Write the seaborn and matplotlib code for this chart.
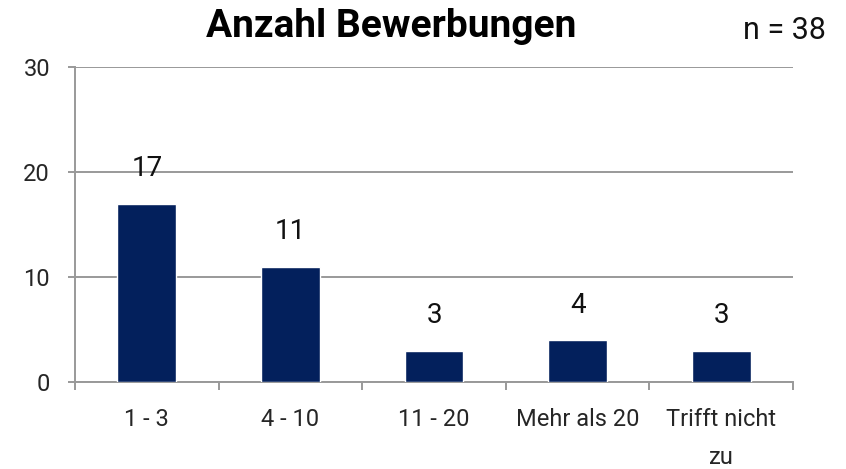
import pandas as pd
import matplotlib
matplotlib.use("Agg")
import matplotlib.pyplot as plt
import seaborn as sns

categories = ["1 - 3", "4 - 10", "11 - 20", "Mehr als 20", "Trifft nicht\nzu"]
counts = [17, 11, 3, 4, 3]
y_ticks = [0, 10, 20, 30]

sns.set_theme(style="white")
plt.rcParams["font.family"] = ["Roboto", "DejaVu Sans"]

df = pd.DataFrame({"Kategorie": categories, "Anzahl": counts})

fig = plt.figure(figsize=(8.46, 4.69), dpi=100)
ax = fig.add_axes([0.0887, 0.1855, 0.8487, 0.6716])

sns.barplot(data=df, x="Kategorie", y="Anzahl", color="#03205C", width=0.41,
            saturation=1, ax=ax, zorder=3)

ax.set_ylim(0, 30)
ax.set_xlim(-0.5, len(categories) - 0.5)
ax.set_yticks(y_ticks)
ax.yaxis.grid(True, color="#999999", linewidth=1.4, zorder=0)
ax.set_axisbelow(True)
ax.set_xlabel("")
ax.set_ylabel("")

for side in ["top", "right"]:
    ax.spines[side].set_visible(False)
for side in ["left", "bottom"]:
    ax.spines[side].set_color("#999999")
    ax.spines[side].set_linewidth(1.4)

# category boundary ticks on x, labels centered between them
ax.set_xticks([i - 0.5 for i in range(len(categories) + 1)], minor=True)
ax.tick_params(axis="x", which="minor", length=6, width=1.4, color="#999999", bottom=True)
ax.tick_params(axis="x", which="major", length=0, pad=19, labelsize=17, bottom=True)
ax.tick_params(axis="y", length=5, width=1.4, color="#999999", pad=13, labelsize=17, left=True)
for lbl in ax.get_xticklabels():
    lbl.set_linespacing(1.8)
    lbl.set_verticalalignment("top")

for i, v in enumerate(counts):
    ax.annotate(str(v), (i, v), xytext=(0, 25), textcoords="offset points",
                ha="center", va="center", fontsize=20, color="#111111")

fig.text(0.4628, 0.943, "Anzahl Bewerbungen", ha="center", va="center",
         fontsize=28, fontweight="bold", color="#000000")
fig.text(0.927, 0.936, "n = 38", ha="center", va="center", fontsize=22, color="#111111")

fig.savefig("out.png", dpi=100)
